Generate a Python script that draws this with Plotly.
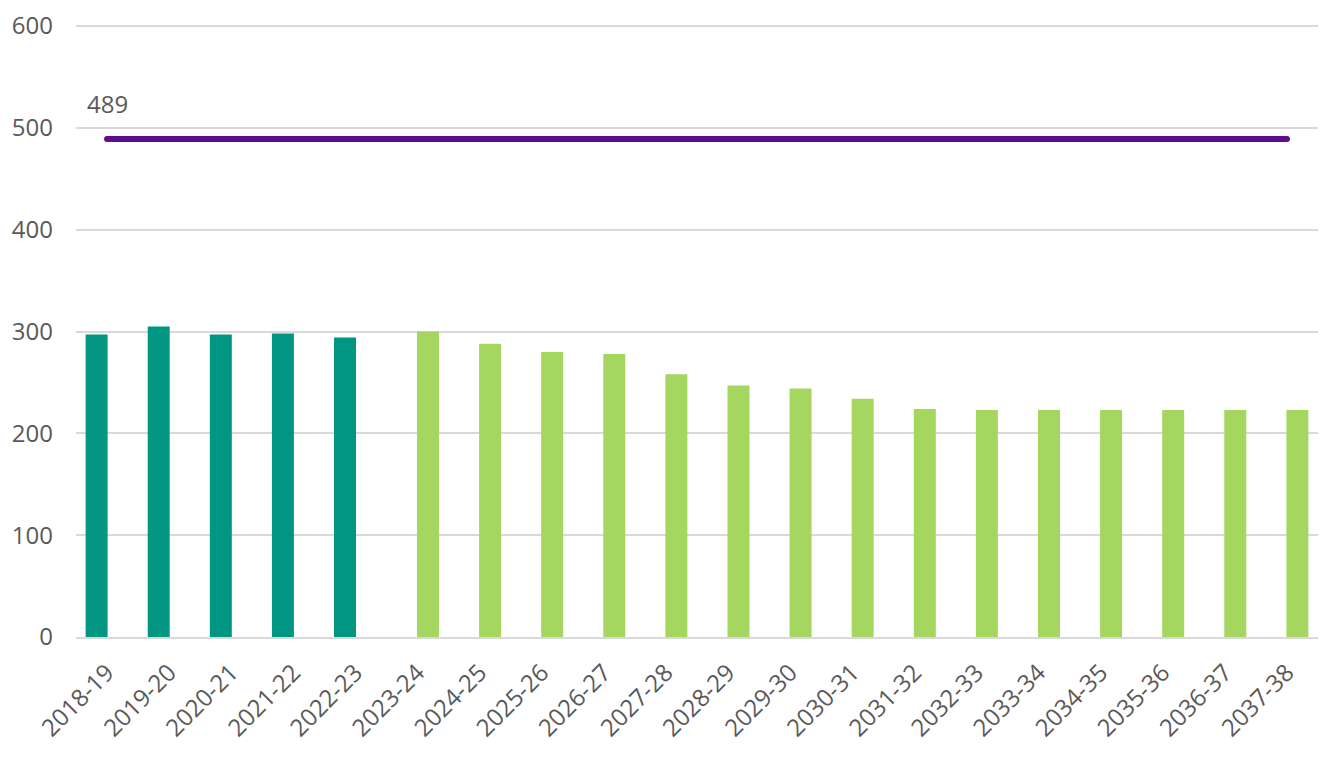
import plotly.graph_objects as go

categories = ["2018-19", "2019-20", "2020-21", "2021-22", "2022-23", "2023-24", "2024-25",
              "2025-26", "2026-27", "2027-28", "2028-29", "2029-30", "2030-31", "2031-32",
              "2032-33", "2033-34", "2034-35", "2035-36", "2036-37", "2037-38"]
historical = [297, 305, 297, 298, 294, None, None, None, None, None, None, None, None, None,
              None, None, None, None, None, None]
projected = [None, None, None, None, None, 300, 288, 280, 278, 258, 247, 244, 234, 224,
             223, 223, 223, 223, 223, 223]
threshold = [489] * 20

TEXT = "#595959"
FONT = "Open Sans"
FS = 24

fig = go.Figure()
fig.add_trace(go.Bar(x=categories, y=historical, name="Historical",
                     marker=dict(color="#009681", line=dict(width=0)),
                     width=0.354, offset=-0.345))
fig.add_trace(go.Bar(x=categories, y=projected, name="Projected",
                     marker=dict(color="#A5D65F", line=dict(width=0)),
                     width=0.354, offset=-0.009))
fig.add_trace(go.Scatter(x=categories, y=threshold, mode="lines", name="Threshold",
                         line=dict(color="#5C0F8C", width=6)))

fig.add_annotation(x=categories[0], y=threshold[0], text=str(threshold[0]),
                   showarrow=False, yshift=36, font=dict(size=FS, color=TEXT, family=FONT))

fig.update_layout(
    width=1323, height=761,
    margin=dict(l=76, r=5, t=25, b=124),
    plot_bgcolor="white", paper_bgcolor="white",
    barmode="overlay",
    showlegend=False,
    font=dict(family=FONT, size=FS, color=TEXT),
)
fig.update_xaxes(type="category", tickangle=-45, showgrid=False, showline=True,
                 linecolor="#D9D9D9", linewidth=2, ticks="", automargin=False,
                 ticklabelstandoff=10,
                 tickfont=dict(size=FS, color=TEXT, family=FONT))
fig.update_yaxes(range=[0, 601], tickvals=[0, 100, 200, 300, 400, 500, 600],
                 showgrid=True, gridcolor="#D9D9D9", gridwidth=2,
                 zeroline=False, showline=False, ticks="", ticklabelstandoff=22,
                 automargin=False,
                 tickfont=dict(size=FS, color=TEXT, family=FONT))

post = ("document.body.style.margin='0';document.body.style.overflow='hidden';"
        "var s=document.createElement('style');"
        "s.textContent='.scatterlayer path.js-line{stroke-linecap:round !important;}';"
        "document.head.appendChild(s);")

fig.write_html("out.html", config={"displayModeBar": False}, post_script=post)
